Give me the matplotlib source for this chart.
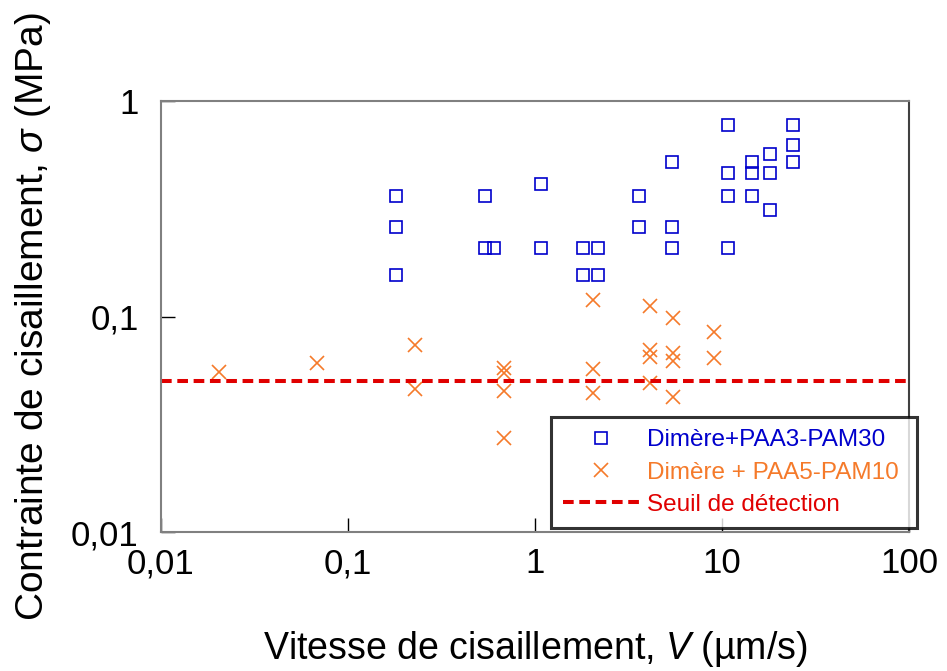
import matplotlib
matplotlib.use("Agg")
import matplotlib.pyplot as plt

plt.rcParams['font.family'] = ['Liberation Sans', 'DejaVu Sans']
plt.rcParams['mathtext.fontset'] = 'custom'
plt.rcParams['mathtext.rm'] = 'Liberation Sans'
plt.rcParams['mathtext.it'] = 'Liberation Sans:italic'

# Dimère + PAA3-PAM30 (squares)
v_paa3 = [0.18, 0.18, 0.18, 0.54, 0.54, 0.60, 1.08, 1.08,
          1.81, 2.16, 1.81, 2.16, 3.59, 3.59, 5.40, 5.40, 5.40,
          10.8, 10.8, 10.8, 10.8, 14.4, 14.4, 14.4,
          18.1, 18.1, 18.1, 24.1, 24.1, 24.1]
s_paa3 = [0.364, 0.259, 0.156, 0.364, 0.208, 0.208, 0.413, 0.208,
          0.208, 0.208, 0.156, 0.156, 0.364, 0.259, 0.519, 0.259, 0.208,
          0.776, 0.463, 0.364, 0.208, 0.519, 0.463, 0.364,
          0.57, 0.463, 0.311, 0.776, 0.623, 0.519]

# Dimère + PAA5-PAM10 (crosses)
v_paa5 = [0.0203, 0.068, 0.228, 0.228, 0.683, 0.683, 0.683, 0.683,
          2.05, 2.05, 2.05, 4.11, 4.11, 4.11, 4.11,
          5.49, 5.49, 5.49, 5.49, 9.06, 9.06]
s_paa5 = [0.0553, 0.0607, 0.0738, 0.0463, 0.0578, 0.0548, 0.045, 0.0272,
          0.119, 0.0573, 0.044, 0.112, 0.070, 0.0646, 0.0493,
          0.0987, 0.0675, 0.0622, 0.0425, 0.0845, 0.0645]

seuil = 0.05

x_ticks = [0.01, 0.1, 1, 10, 100]
x_ticklabels = ['0,01', '0,1', '1', '10', '100']
y_ticks = [0.01, 0.1, 1]
y_ticklabels = ['0,01', '0,1', '1']

blue = '#0000CC'
orange = '#F57A2A'
red = '#E00000'

fig = plt.figure(figsize=(9.47, 6.71), dpi=100)
ax = fig.add_axes([161/947, 139/671, 748/947, 431/671])

ax.plot(v_paa3, s_paa3, linestyle='none', marker='s', ms=9, mfc='none',
        mec=blue, mew=1.2, label='Dimère+PAA3-PAM30')
ax.plot(v_paa5, s_paa5, linestyle='none', marker='x', ms=10, mec=orange,
        mew=1.2, label='Dimère + PAA5-PAM10')
ax.axhline(seuil, color=red, lw=2.9, linestyle=(0, (2.65, 1.4)),
           label='Seuil de détection')

ax.set_xscale('log')
ax.set_yscale('log')
ax.set_xlim(0.01, 100)
ax.set_ylim(0.01, 1)
ax.set_xticks(x_ticks)
ax.set_xticklabels(x_ticklabels)
ax.set_yticks(y_ticks)
ax.set_yticklabels(y_ticklabels)
ax.minorticks_off()
ax.tick_params(axis='both', direction='in', length=10, width=1, labelsize=25,
               top=False, right=False)
ax.tick_params(axis='x', pad=11)
ax.tick_params(axis='y', pad=16)

for side in ['left', 'bottom', 'top']:
    ax.spines[side].set_color('#808080')
    ax.spines[side].set_linewidth(1.5)
ax.spines['right'].set_color('#404040')
ax.spines['right'].set_linewidth(1.5)

ax.set_xlabel(r'Vitesse de cisaillement, $V$ (µm/s)', fontsize=27)
ax.set_ylabel(r'Contrainte de cisaillement, $\sigma$ (MPa)', fontsize=28)
ax.xaxis.set_label_coords(0.5, -0.225)
ax.yaxis.set_label_coords(-0.144, 0.5)

leg = ax.legend(loc='center', bbox_to_anchor=(551/947, 139/671, 366/947, 119/671),
                bbox_transform=fig.transFigure, mode='expand', fontsize=17.5,
                frameon=True, fancybox=False, edgecolor='black',
                handlelength=3.1, handletextpad=0.35, labelspacing=0.42,
                borderpad=0.5, borderaxespad=0)
leg.get_frame().set_linewidth(2.2)
for txt, c in zip(leg.get_texts(), [blue, orange, red]):
    txt.set_color(c)

fig.savefig('out.png', dpi=100)
